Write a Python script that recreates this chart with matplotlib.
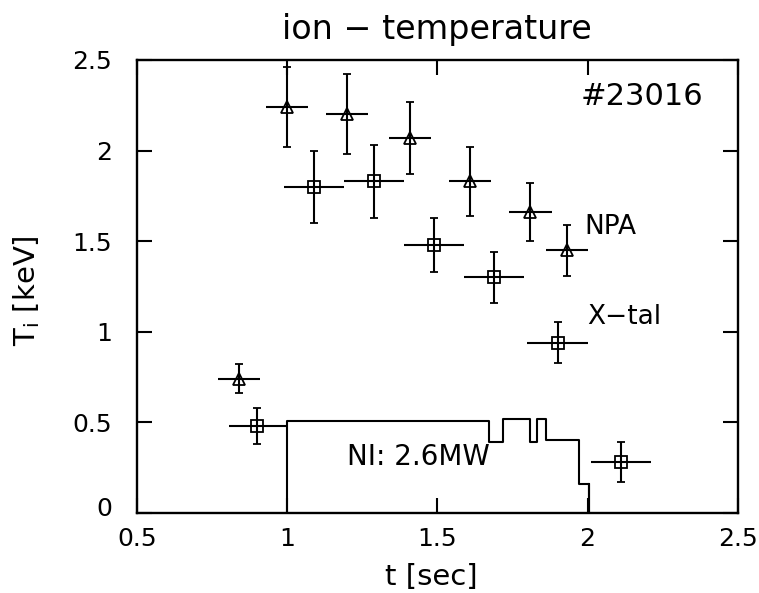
import numpy as np
import matplotlib
matplotlib.use("Agg")
import matplotlib.pyplot as plt
from matplotlib.transforms import ScaledTranslation

# NPA (triangles)
npa_t = [0.84, 1.0, 1.2, 1.41, 1.61, 1.81, 1.93]
npa_T = [0.74, 2.24, 2.20, 2.07, 1.83, 1.66, 1.45]
npa_dT = [0.08, 0.22, 0.22, 0.20, 0.19, 0.16, 0.14]
npa_dt = [0.07, 0.07, 0.07, 0.07, 0.07, 0.07, 0.07]

# X-tal (squares)
xtal_t = [0.90, 1.09, 1.29, 1.49, 1.69, 1.90, 2.11]
xtal_T = [0.48, 1.80, 1.83, 1.48, 1.30, 0.94, 0.28]
xtal_dT = [0.10, 0.20, 0.20, 0.15, 0.14, 0.115, 0.11]
xtal_dt = [0.095, 0.10, 0.10, 0.10, 0.10, 0.10, 0.10]

# NI power trace (scaled to axis units)
ni_t = [1.0, 1.673, 1.717, 1.807, 1.833, 1.863, 1.97, 2.005]
ni_P = [0.51, 0.39, 0.52, 0.39, 0.52, 0.40, 0.16, 0.0]

plt.rcParams["font.family"] = "DejaVu Sans"

fig = plt.figure(figsize=(7.59, 5.93), dpi=100)
ax = fig.add_axes([0.1805, 0.135, 0.7915, 0.764])

# horizontal bars have no caps, vertical bars do
for t, T, dT, dt, m, ms in [(npa_t, npa_T, npa_dT, npa_dt, "^", 8),
                            (xtal_t, xtal_T, xtal_dT, xtal_dt, "s", 9)]:
    ax.errorbar(t, T, xerr=dt, fmt="none", ecolor="black", elinewidth=1.5)
    ax.errorbar(t, T, yerr=dT, fmt=m, mfc="none", mec="black", ms=ms,
                mew=1.3, ecolor="black", elinewidth=1.5, capsize=3,
                capthick=1.5)

ax.step([ni_t[0]] + ni_t, [0.0] + ni_P, where="post", color="black", lw=1.5)
ax.plot([ni_t[-1], ni_t[-1]], [ni_P[-2], 0], color="black", lw=1.5)

ax.text(1.2, 0.31, "NI: 2.6MW", fontsize=20, va="center", ha="left")
ax.text(2.18, 2.30, "#23016", fontsize=22, va="center", ha="center")
ax.text(1.99, 1.58, "NPA", fontsize=19, va="center", ha="left")
ax.text(2.0, 1.08, "X\u2212tal", fontsize=19, va="center", ha="left")

ax.set_xlim(0.5, 2.5)
ax.set_ylim(0, 2.5)
ax.set_xticks([0.5, 1, 1.5, 2, 2.5])
ax.set_xticklabels(["0.5", "1", "1.5", "2", "2.5"])
ax.set_yticks([0, 0.5, 1, 1.5, 2, 2.5])
ax.set_yticklabels(["0", "0.5", "1", "1.5", "2", "2.5"])
ax.tick_params(direction="in", top=True, right=True, length=11, width=1.5,
               labelsize=18)
ax.tick_params(axis="x", pad=10)
ax.tick_params(axis="y", pad=18)
for s in ax.spines.values():
    s.set_linewidth(1.7)

# lift the "0" label a little, as in the original
ylab0 = ax.get_yticklabels()[0]
ylab0.set_transform(ylab0.get_transform() + ScaledTranslation(0, 5 / 72, fig.dpi_scale_trans))

ax.set_title("ion \u2212 temperature", fontsize=24, pad=15)
ax.set_xlabel("t [sec]", fontsize=21, va="center")
ax.set_ylabel("T$_\\mathregular{i}$ [keV]", fontsize=21, va="center")
ax.xaxis.set_label_coords(0.49, -0.141)
ax.yaxis.set_label_coords(-0.183, 0.49)

fig.savefig("out.png", dpi=100)
